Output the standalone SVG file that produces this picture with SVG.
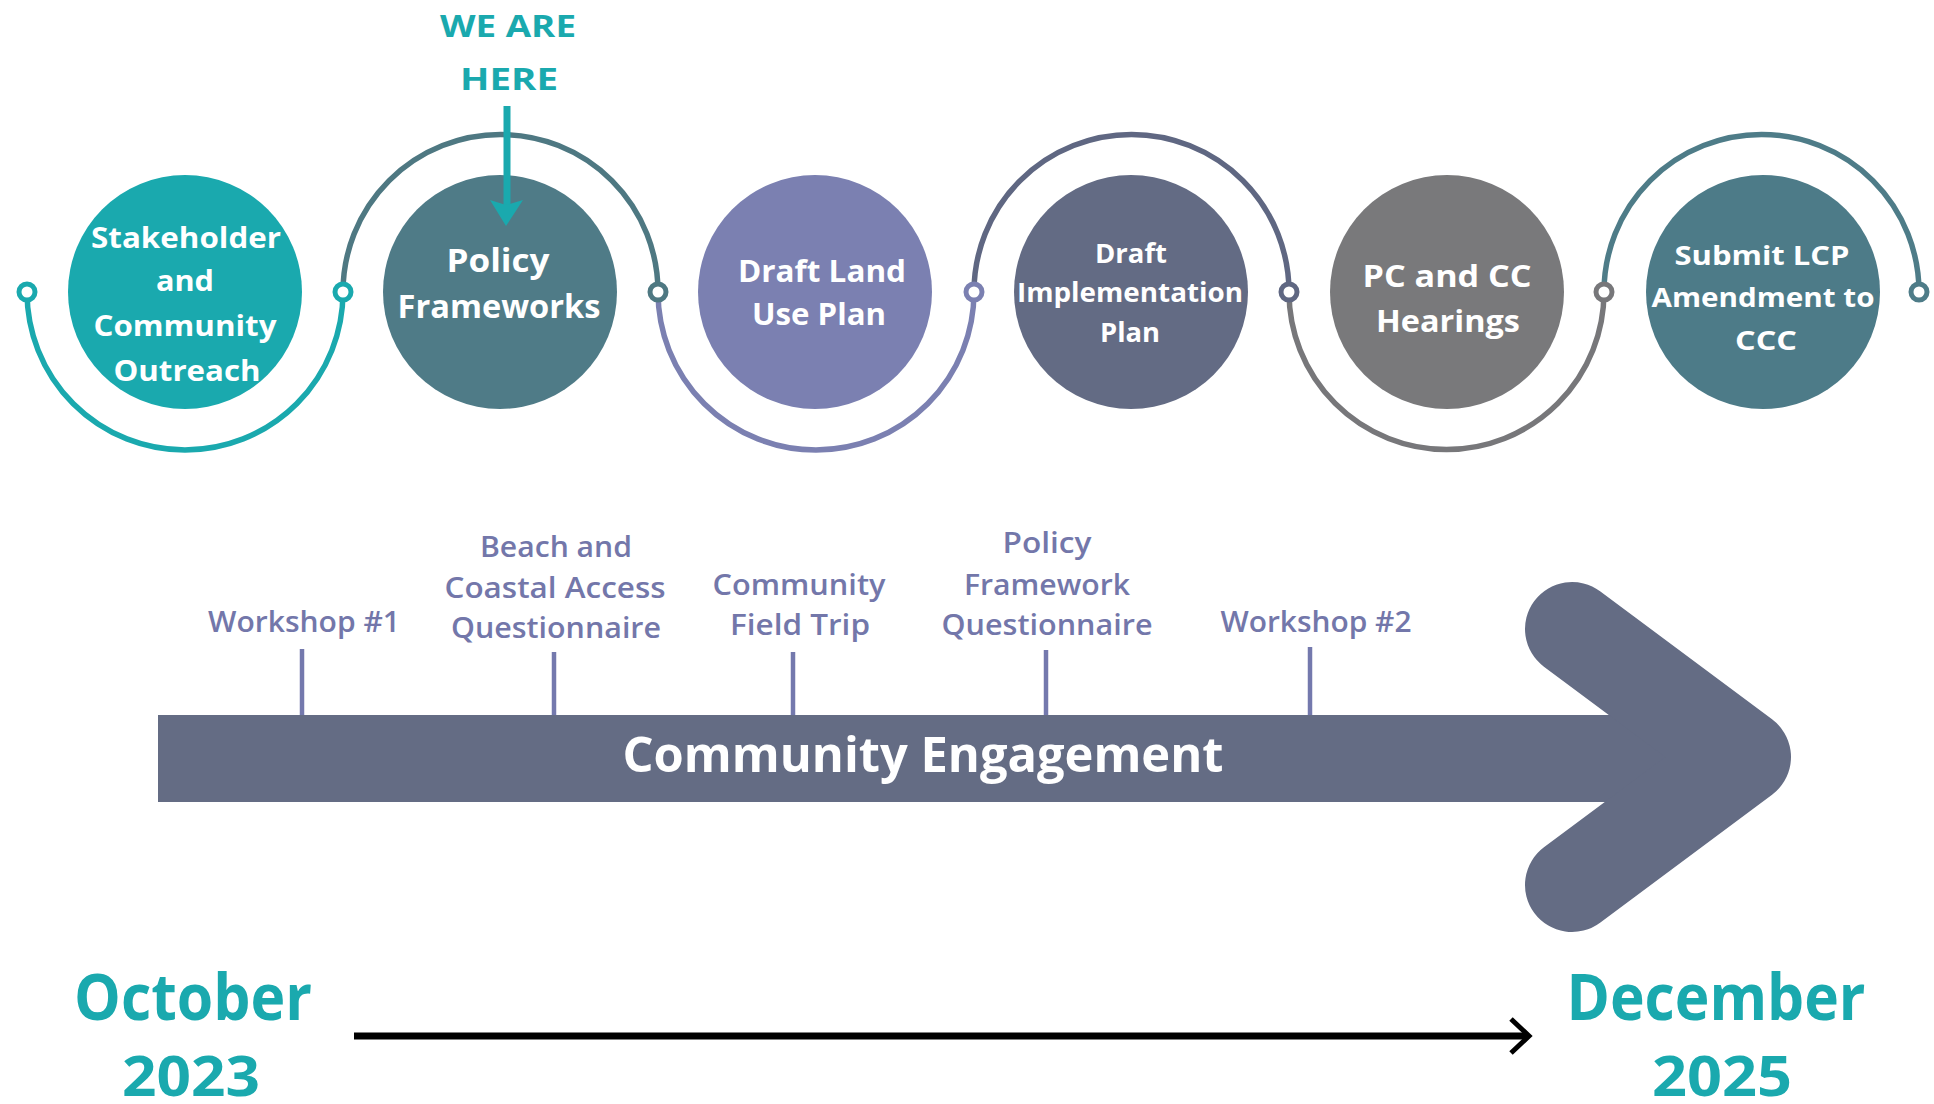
<svg xmlns="http://www.w3.org/2000/svg" width="1934" height="1104" viewBox="0 0 1934 1104">
<style>
text{font-family:"Open Sans","Liberation Sans",sans-serif;text-anchor:middle}
.nt{fill:#ffffff;font-weight:700}
.lb{fill:#7377aa;font-weight:600;font-size:28px}
.dt{fill:#1aa9ae;font-weight:700;font-size:64px}
.yr{fill:#1aa9ae;font-weight:700;font-size:55px}
.here{fill:#1aa9ae;font-weight:700;font-size:31px}
.arc{fill:none;stroke-width:5.5}
.ring{fill:#ffffff;stroke-width:5}
.tick{stroke:#7479ad;stroke-width:4.5}
</style>
<rect width="1934" height="1104" fill="#ffffff"/>

<g id="connectors">
  <path class="arc" stroke="#1aa9ae" d="M27 292 A158 158 0 0 0 343 292"/>
  <path class="arc" stroke="#4e7882" d="M343 292 A157.5 157.5 0 0 1 658 292"/>
  <path class="arc" stroke="#7b80b1" d="M658 292 A158 158 0 0 0 974 292"/>
  <path class="arc" stroke="#5f6782" d="M974 292 A157.5 157.5 0 0 1 1289 292"/>
  <path class="arc" stroke="#77777a" d="M1289 292 A157.5 157.5 0 0 0 1604 292"/>
  <path class="arc" stroke="#4e7c88" d="M1604 292 A157.5 157.5 0 0 1 1919 292"/>
  <circle class="ring" cx="27" cy="292" r="8" stroke="#1aa9ae"/>
  <circle class="ring" cx="343" cy="292" r="8" stroke="#1aa9ae"/>
  <circle class="ring" cx="658" cy="292" r="8" stroke="#4e7882"/>
  <circle class="ring" cx="974" cy="292" r="8" stroke="#7b80b1"/>
  <circle class="ring" cx="1289" cy="292" r="8" stroke="#5f6782"/>
  <circle class="ring" cx="1604" cy="292" r="8" stroke="#77777a"/>
  <circle class="ring" cx="1919" cy="292" r="8" stroke="#4e7c88"/>
  <!-- ticks -->
  <line class="tick" x1="302" y1="649" x2="302" y2="716"/>
  <line class="tick" x1="554" y1="652" x2="554" y2="716"/>
  <line class="tick" x1="793" y1="652" x2="793" y2="716"/>
  <line class="tick" x1="1046" y1="650" x2="1046" y2="716"/>
  <line class="tick" x1="1310" y1="647" x2="1310" y2="716"/>
  <!-- timeline arrow -->
  <line x1="354" y1="1036" x2="1528" y2="1036" stroke="#000000" stroke-width="7"/>
  <polyline points="1511,1019 1529,1036 1511,1053" fill="none" stroke="#000000" stroke-width="5"/>
</g>

<g id="node-stakeholder">
  <circle cx="185" cy="292" r="117" fill="#1aa9ae"/>
  <text class="nt" font-size="29" x="186" y="248" textLength="190" lengthAdjust="spacingAndGlyphs">Stakeholder</text>
  <text class="nt" font-size="29" x="185" y="291" textLength="58" lengthAdjust="spacingAndGlyphs">and</text>
  <text class="nt" font-size="29" x="185" y="336" textLength="183" lengthAdjust="spacingAndGlyphs">Community</text>
  <text class="nt" font-size="29" x="187" y="381" textLength="147" lengthAdjust="spacingAndGlyphs">Outreach</text>
</g>

<g id="node-policy">
  <circle cx="500" cy="292" r="117" fill="#4f7b87"/>
  <text class="nt" font-size="32" x="498" y="272" textLength="103" lengthAdjust="spacingAndGlyphs">Policy</text>
  <text class="nt" font-size="32" x="499" y="318" textLength="203" lengthAdjust="spacingAndGlyphs">Frameworks</text>
</g>

<g id="node-land-use">
  <circle cx="815" cy="292" r="117" fill="#7b80b1"/>
  <text class="nt" font-size="31" x="822" y="282" textLength="168" lengthAdjust="spacingAndGlyphs">Draft Land</text>
  <text class="nt" font-size="31" x="819" y="325" textLength="134" lengthAdjust="spacingAndGlyphs">Use Plan</text>
</g>

<g id="node-implementation">
  <circle cx="1131" cy="292" r="117" fill="#636b84"/>
  <text class="nt" font-size="26" x="1131" y="263" textLength="72" lengthAdjust="spacingAndGlyphs">Draft</text>
  <text class="nt" font-size="26" x="1130" y="302" textLength="226" lengthAdjust="spacingAndGlyphs">Implementation</text>
  <text class="nt" font-size="26" x="1130" y="342" textLength="60" lengthAdjust="spacingAndGlyphs">Plan</text>
</g>

<g id="node-hearings">
  <circle cx="1447" cy="292" r="117" fill="#79797b"/>
  <text class="nt" font-size="30" x="1447" y="287" textLength="169" lengthAdjust="spacingAndGlyphs">PC and CC</text>
  <text class="nt" font-size="30" x="1448" y="332" textLength="144" lengthAdjust="spacingAndGlyphs">Hearings</text>
</g>

<g id="node-submit">
  <circle cx="1763" cy="292" r="117" fill="#4d7b88"/>
  <text class="nt" font-size="27" x="1762" y="265" textLength="175" lengthAdjust="spacingAndGlyphs">Submit LCP</text>
  <text class="nt" font-size="27" x="1763" y="307" textLength="223" lengthAdjust="spacingAndGlyphs">Amendment to</text>
  <text class="nt" font-size="27" x="1766" y="350" textLength="62" lengthAdjust="spacingAndGlyphs">CCC</text>
</g>

<g id="we-are-here">
  <text class="here" x="508" y="37" textLength="136" lengthAdjust="spacingAndGlyphs">WE ARE</text>
  <text class="here" x="509" y="90" textLength="98" lengthAdjust="spacingAndGlyphs">HERE</text>
  <line x1="507" y1="106" x2="507" y2="206" stroke="#1aa9ae" stroke-width="7"/>
  <path d="M490 200 L506 205 L523 200 L506 226 Z" fill="#1aa9ae"/>
</g>

<g id="community-engagement">
  <rect x="158" y="715" width="1545" height="87" fill="#646c84"/>
  <polyline points="1572,629 1744,757 1572,885" fill="none" stroke="#646c84" stroke-width="94" stroke-linecap="round" stroke-linejoin="round"/>
  <text class="nt" font-size="48" x="923" y="772" textLength="601" lengthAdjust="spacingAndGlyphs">Community Engagement</text>
</g>

<g id="event-labels">
  <text class="lb" x="304" y="632" textLength="192" lengthAdjust="spacingAndGlyphs">Workshop #1</text>
  <text class="lb" x="556" y="557" textLength="152" lengthAdjust="spacingAndGlyphs">Beach and</text>
  <text class="lb" x="555" y="598" textLength="221" lengthAdjust="spacingAndGlyphs">Coastal Access</text>
  <text class="lb" x="556" y="638" textLength="210" lengthAdjust="spacingAndGlyphs">Questionnaire</text>
  <text class="lb" x="799" y="595" textLength="173" lengthAdjust="spacingAndGlyphs">Community</text>
  <text class="lb" x="800" y="635" textLength="140" lengthAdjust="spacingAndGlyphs">Field Trip</text>
  <text class="lb" x="1047" y="553" textLength="89" lengthAdjust="spacingAndGlyphs">Policy</text>
  <text class="lb" x="1047" y="595" textLength="166" lengthAdjust="spacingAndGlyphs">Framework</text>
  <text class="lb" x="1047" y="635" textLength="211" lengthAdjust="spacingAndGlyphs">Questionnaire</text>
  <text class="lb" x="1316" y="632" textLength="191" lengthAdjust="spacingAndGlyphs">Workshop #2</text>
</g>

<g id="dates">
  <text class="dt" x="193" y="1020" textLength="238" lengthAdjust="spacingAndGlyphs">October</text>
  <text class="yr" x="191" y="1096" textLength="138" lengthAdjust="spacingAndGlyphs">2023</text>
  <text class="dt" x="1716" y="1020" textLength="299" lengthAdjust="spacingAndGlyphs">December</text>
  <text class="yr" x="1722" y="1096" textLength="140" lengthAdjust="spacingAndGlyphs">2025</text>
</g>
</svg>
